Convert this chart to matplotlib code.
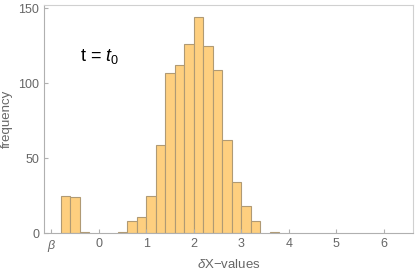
import matplotlib
matplotlib.use("Agg")
import matplotlib.pyplot as plt
import numpy as np

# Histogram data (bin width 0.2)
bin_left = [-0.8, -0.6, -0.4, 0.4, 0.6, 0.8, 1.0, 1.2, 1.4, 1.6, 1.8, 2.0,
            2.2, 2.4, 2.6, 2.8, 3.0, 3.2, 3.6]
counts = [25, 24, 1, 1, 8, 11, 25, 59, 107, 112, 126, 144,
          125, 109, 62, 34, 18, 8, 1]
bin_width = 0.2

xtick_pos = [-1, 0, 1, 2, 3, 4, 5, 6]
xtick_labels = [r"$\beta$", "0", "1", "2", "3", "4", "5", "6"]
ytick_pos = [0, 50, 100, 150]

plt.rcParams['font.family'] = ['Liberation Sans', 'DejaVu Sans']
plt.rcParams['mathtext.fontset'] = 'custom'
plt.rcParams['mathtext.rm'] = 'Liberation Sans'
plt.rcParams['mathtext.it'] = 'Liberation Sans:italic'

fig = plt.figure(figsize=(4.15, 2.72), dpi=100)
ax = fig.add_axes([0.1067, 0.1423, 0.888, 0.838])

ax.bar(bin_left, counts, width=bin_width, align='edge',
       color='#fecf7f', edgecolor='#b09a74', linewidth=0.8)

ax.set_xlim(-1.15, 6.61)
ax.set_ylim(0, 152)
ax.set_xticks(xtick_pos)
ax.set_xticklabels(xtick_labels)
ax.set_yticks(ytick_pos)

gray = '#666666'
for side in ['left', 'bottom']:
    ax.spines[side].set_color('#b0b0b0')
for side in ['top', 'right']:
    ax.spines[side].set_color('#d0d0d0')
ax.tick_params(direction='in', length=3, color='#b0b0b0', labelcolor=gray,
               labelsize=9)

ax.set_xlabel(r"$\it{\delta}$X$-$values", color=gray, fontsize=9.5, labelpad=3)
ax.set_ylabel("frequency", color=gray, fontsize=9.5, labelpad=2)
ax.yaxis.set_label_coords(-0.085, 0.5)

ax.text(-0.4, 118, r"t = $t_0$", fontsize=13, color='black',
        ha='left', va='center')

fig.savefig("out.png", dpi=100)
